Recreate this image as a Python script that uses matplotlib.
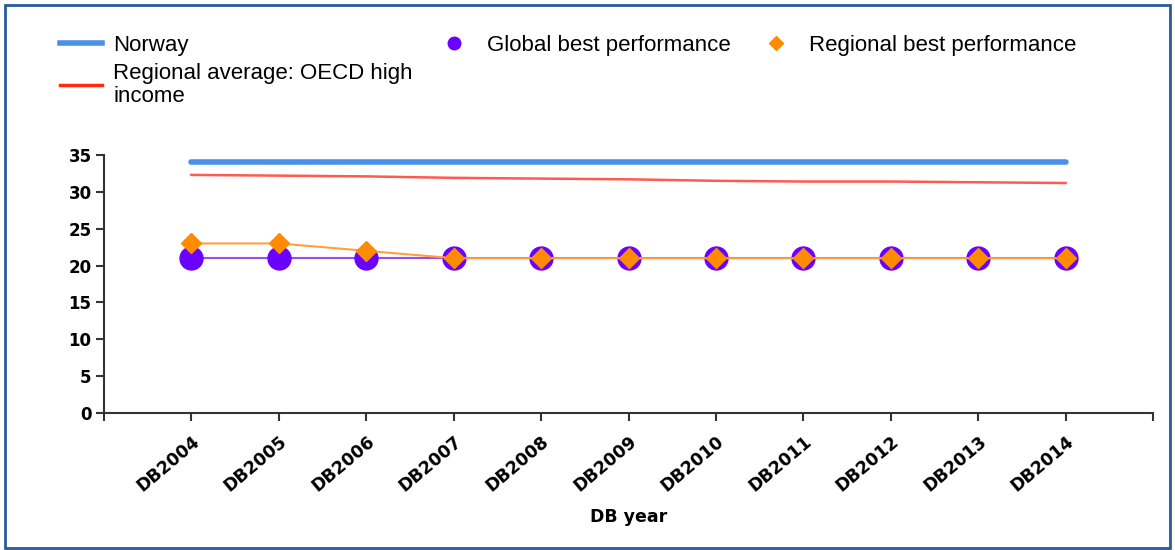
import matplotlib
matplotlib.use("Agg")
import matplotlib.pyplot as plt
from matplotlib.lines import Line2D
from matplotlib.patches import Rectangle

years = ["DB2004", "DB2005", "DB2006", "DB2007", "DB2008", "DB2009",
         "DB2010", "DB2011", "DB2012", "DB2013", "DB2014"]
norway = [34, 34, 34, 34, 34, 34, 34, 34, 34, 34, 34]
regional_avg = [32.3, 32.2, 32.1, 31.9, 31.8, 31.7, 31.5, 31.4, 31.4, 31.3, 31.2]
global_best = [21, 21, 21, 21, 21, 21, 21, 21, 21, 21, 21]
regional_best = [23, 23, 22, 21, 21, 21, 21, 21, 21, 21, 21]
yticks = [0, 5, 10, 15, 20, 25, 30, 35]

plt.rcParams['font.family'] = ['Liberation Sans', 'DejaVu Sans']

fig = plt.figure(figsize=(11.75, 5.5), dpi=100)
ax = fig.add_axes([104/1175, 1-413/550, (1153-104)/1175, (413-155)/550])

x = list(range(1, len(years)+1))
ax.plot(x, norway, color='#4a90e8', lw=4, solid_capstyle='round', zorder=3)
ax.plot(x, regional_avg, color='#ff5a50', lw=1.8, zorder=3)
ax.plot(x, global_best, color='#9a4cf0', lw=1.5, marker='o', ms=16.5,
        markerfacecolor='#6a00ff', markeredgecolor='#6a00ff', zorder=4)
ax.plot(x, regional_best, color='#ffa040', lw=1.5, marker='D', ms=10,
        markerfacecolor='#ff8c00', markeredgecolor='#ff8c00', zorder=5)

ax.set_xlim(0, len(years)+1)
ax.set_ylim(0, 35)
ax.set_xticks(range(0, len(years)+2))
ax.set_xticklabels([''] + years + [''], rotation=40, ha='right', va='top',
                   rotation_mode='anchor', fontweight='bold', fontsize=12.5,
                   family='DejaVu Sans')
ax.set_yticks(yticks)
ax.set_yticklabels([str(v) for v in yticks], fontweight='bold', fontsize=12,
                   family='DejaVu Sans')
ax.tick_params(axis='both', direction='out', length=6, width=1.5, color='#333333')
ax.tick_params(axis='x', pad=8)
ax.tick_params(axis='y', pad=3)
for s in ['top', 'right']:
    ax.spines[s].set_visible(False)
for s in ['left', 'bottom']:
    ax.spines[s].set_color('#333333')
    ax.spines[s].set_linewidth(1.5)
ax.set_xlabel('DB year', fontweight='bold', fontsize=12.5, labelpad=9,
              family='DejaVu Sans')

# Legends
lfs = 16
h1 = [Line2D([], [], color='#4a90e8', lw=4),
      Line2D([], [], color='#ff2a10', lw=2.5)]
leg1 = fig.legend(h1, ['Norway', 'Regional average: OECD high\nincome'],
                  loc='upper left', bbox_to_anchor=(60/1175, 1-35/550),
                  frameon=False, fontsize=lfs, handlelength=1.9,
                  handletextpad=0.5, labelspacing=0.3, borderpad=0,
                  borderaxespad=0)
for t in leg1.get_texts():
    t.set_linespacing(1.12)
h2 = [Line2D([], [], ls='none', marker='o', ms=9, color='#6a00ff')]
fig.legend(h2, ['Global best performance'], loc='upper left',
           bbox_to_anchor=(447/1175, 1-35/550), frameon=False, fontsize=lfs,
           handlelength=0.6, handletextpad=1.2, borderpad=0, borderaxespad=0)
h3 = [Line2D([], [], ls='none', marker='D', ms=7, color='#ff8c00')]
fig.legend(h3, ['Regional best performance'], loc='upper left',
           bbox_to_anchor=(769/1175, 1-35/550), frameon=False, fontsize=lfs,
           handlelength=0.6, handletextpad=1.2, borderpad=0, borderaxespad=0)

fig.patches.append(Rectangle((0.004, 0.003), 0.992, 0.988, transform=fig.transFigure,
                             fill=False, edgecolor='#2a5a9a', lw=2))

fig.savefig('out.png', dpi=100)
